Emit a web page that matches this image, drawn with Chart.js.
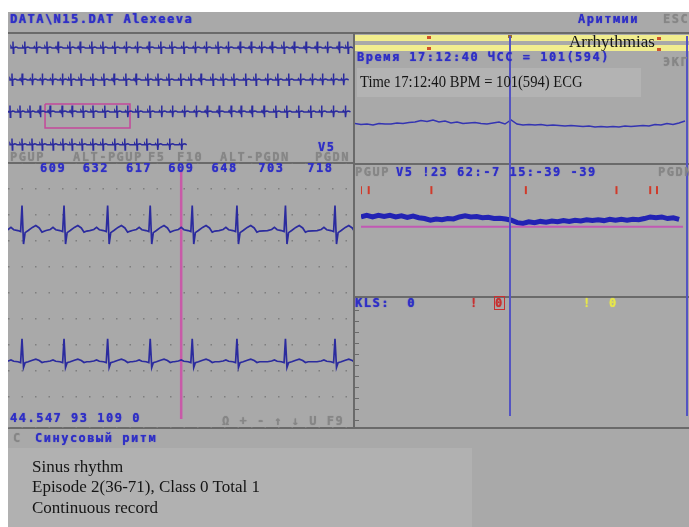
<!DOCTYPE html>
<html>
<head>
<meta charset="utf-8">
<script src="https://cdn.jsdelivr.net/npm/chart.js@4.4.0/dist/chart.umd.min.js"></script>
<style>
body{margin:0;width:689px;height:527px;overflow:hidden;position:relative;background:#fff;font-family:"DejaVu Sans Mono",monospace}
#screen{position:absolute;left:8px;top:12px;width:681px;height:515px;background:#a9a9a9}
.t{position:absolute;white-space:pre;font-weight:bold;font-size:12px;letter-spacing:1.5px;line-height:12px;color:#2f2fc6;text-shadow:0 0 1px currentColor}
.g{color:#868686}
.r{color:#c83030}
.y{color:#e6e64a}
.serif{position:absolute;white-space:pre;font-family:"Liberation Serif",serif;font-size:17px;line-height:20px;color:#151515}
.hl{position:absolute;height:2px;background:#6a6a6a}
.vl{position:absolute;width:2px;background:#6a6a6a}
.cur{position:absolute;width:2px;background:#5454c2}
.band{position:absolute;left:355px;width:334px;height:6px;background:#f1ed8e}
.mk{position:absolute;width:4px;height:3px;background:#d0522a}
.box{position:absolute}
</style>
</head>
<body>
<div id="screen"></div>

<!-- light boxes -->
<div class="box" style="left:357px;top:68px;width:284px;height:29px;background:#b3b3b3"></div>
<div class="box" style="left:8px;top:448px;width:464px;height:79px;background:#b1b1b1"></div>

<!-- panel frame -->
<div class="hl" style="left:8px;top:32px;width:681px"></div>
<div class="vl" style="left:353px;top:32px;height:397px"></div>
<div class="hl" style="left:8px;top:162px;width:345px"></div>
<div class="hl" style="left:355px;top:163px;width:334px"></div>
<div class="hl" style="left:355px;top:296px;width:334px"></div>
<div class="hl" style="left:8px;top:427px;width:681px"></div>
<div class="box" style="left:355px;top:300px;width:4px;height:125px;background:repeating-linear-gradient(#a9a9a9 0 10px,#6a6a6a 10px 11px)"></div>

<!-- yellow bands -->
<div class="band" style="top:35px"></div>
<div class="band" style="top:45px"></div>
<div class="mk" style="left:427px;top:36px"></div>
<div class="mk" style="left:427px;top:47px"></div>
<div class="mk" style="left:508px;top:35px;background:#9a6a30"></div>
<div class="mk" style="left:657px;top:37px"></div>
<div class="mk" style="left:657px;top:48px"></div>

<!-- charts -->
<div class="box" style="left:8px;top:36px"><canvas id="overview" width="345" height="116"></canvas></div>
<div class="box" style="left:8px;top:163px"><canvas id="main" width="345" height="265"></canvas></div>
<div class="box" style="left:355px;top:100px"><canvas id="trendA" width="334" height="50"></canvas></div>
<div class="box" style="left:355px;top:176px"><canvas id="trendB" width="334" height="64"></canvas></div>

<!-- cursors -->
<div class="cur" style="left:509px;top:36px;height:380px"></div>
<div class="cur" style="left:686px;top:36px;height:380px"></div>

<!-- texts -->
<div class="t" style="left:10px;top:13px">DATA\N15.DAT Alexeeva</div>
<div class="t" style="left:578px;top:13px">Аритмии</div>
<div class="t g" style="left:663px;top:13px">ESC</div>
<div class="serif" style="left:569px;top:32px">Arrhythmias</div>
<div class="t" style="left:357px;top:51px">Время 17:12:40 ЧСС = 101(594)</div>
<div class="t g" style="left:663px;top:56px">ЭКГ</div>
<div class="serif" style="left:360px;top:72px;transform:scaleX(0.86);transform-origin:left">Time 17:12:40 BPM = 101(594) ECG</div>

<div class="t" style="left:318px;top:141px">V5</div>
<div class="t g" style="left:10px;top:151px">PGUP</div>
<div class="t g" style="left:73px;top:151px">ALT-PGUP</div>
<div class="t g" style="left:148px;top:151px">F5</div>
<div class="t g" style="left:177px;top:151px">F10</div>
<div class="t g" style="left:220px;top:151px">ALT-PGDN</div>
<div class="t g" style="left:315px;top:151px">PGDN</div>

<div class="t g" style="left:355px;top:166px">PGUP</div>
<div class="t" style="left:396px;top:166px">V5 !23 62:-7 15:-39 -39</div>
<div class="t g" style="left:658px;top:166px">PGDN</div>

<div class="t" style="left:355px;top:297px">KLS:  0</div>
<div class="t r" style="left:470px;top:297px">!</div>
<div class="t r" style="left:495px;top:297px;outline:1px solid #c83030">0</div>
<div class="t y" style="left:583px;top:297px">!</div>
<div class="t y" style="left:609px;top:297px">0</div>

<div class="t" style="left:10px;top:412px">44.547 93 109 0</div>
<div class="t g" style="left:222px;top:415px">Ω + - ↑ ↓ U F9</div>
<div class="t g" style="left:13px;top:432px">C</div>
<div class="t" style="left:35px;top:432px">Синусовый ритм</div>

<div class="serif" style="left:32px;top:457px">Sinus rhythm</div>
<div class="serif" style="left:32px;top:477px">Episode 2(36-71), Class 0 Total 1</div>
<div class="serif" style="left:32px;top:498px">Continuous record</div>

<script>
// main window: RR intervals in ms (shown above the strip)
const mainFirstBeat = 203;
const mainRR = [609, 632, 617, 609, 648, 703, 718];
const cursorTime = 2510;

// beat shape, ms from R peak
const beatOffsets = [-260, -200, -160, -120, -60, -20, 0, 22, 45, 90, 150, 200, 250, 290, 330];
const lead1Shape = [0, 0.04, 0.12, 0.03, 0, -0.04, 0.96, -0.52, -0.08, 0, 0.12, 0.19, 0.1, -0.06, -0.02];
const lead2Shape = [0, 0.03, 0.07, 0.02, 0, -0.03, 0.88, -0.22, -0.04, 0, 0.06, 0.1, 0.05, -0.03, 0];
const lead1Base = -2.6;
const lead2Base = -7.65;

// overview rows (19 s each)
const miniOffsets = [-150, -110, -70, -15, 0, 18, 40, 140, 210, 280];
const miniShape = [0, 0.3, 0, 0, 1.6, -1.3, 0, 0.25, 0.2, 0];
const rowBase = [-3, -11, -19, -27.2];
const rowStart = [275, 220, 110, 220];
const row1RR = [650, 640, 580, 610, 650, 570, 640, 610, 650, 640, 610, 650, 640, 610, 650, 640, 610, 640, 570, 650, 610, 570, 580, 650, 570, 650, 610, 570, 640, 480];
const row2RR = [560, 560, 550, 560, 550, 460, 560, 650, 610, 560, 650, 560, 650, 560, 600, 650, 560, 560, 650, 560, 600, 650, 560, 650, 560, 600, 650, 650, 560, 600, 560];
const row3RR = [550, 550, 560, 550, 660, 550, 600, 550, 650, 660, 600, 560, 660, 650, 600, 660, 650, 600, 660, 660, 550, 600, 660, 650, 600, 660, 660, 600, 650, 660];
const row4RR = [550, 550, 550, 600, 550, 500, 550, 600, 550, 660, 550, 660, 550, 600, 660, 660];
const windowStart = 2040, windowEnd = 6720;

// right panel trends, one value every 6 units
const trendTop = [0.5, -0.5, 0, -1, 0.5, 0, 0, 1, 0.5, 1.5, 2, 3.5, 2.5, 4, 2, 3, 1, 2, 0.5, 1, 1.5, 0.5, 0, 1, 2, 0, 4, 0, -1, -0.5, -1, -0.5, -1.5, -1, -1.5, -2, -1.5, -2, -2.5, -2, -3, -2.5, -3, -2.5, -3, -2, -2.5, -2, -1.5, -2, -0.5, -1, 0.5, -0.5, 1, 3];
const trendBottom = [1, 3, 1, 3, 1.5, 3, 1, 2.5, 0.5, 2, 0, -1, -3, -1.5, -2.5, -1, -1.5, 1, 2.5, 1, 1.5, 0, 0.5, -1, -0.5, -1.5, -3, -6, -7, -5, -6, -4.5, -5.5, -4, -5, -3.5, -4.5, -3, -4, -2.5, -3.5, -2.5, -3.5, -2, -3, -2, -3, -2, -2.5, -1, 1, 0, 1, -1, 0, -2];
const trendStep = 6;
const eventMarks = [0, 8, 73, 171, 265, 300, 307];

const ink = '#2b2b9e';

function buildTrace(first, rr, offsets, shape, base) {
    const beats = [first];
    rr.forEach(v => beats.push(beats[beats.length - 1] + v));
    const pts = [];
    beats.forEach(t => {
        offsets.forEach((o, i) => pts.push({x: t + o, y: base + shape[i]}));
    });
    return pts;
}

function line(data, color, width) {
    return {data: data, borderColor: color, borderWidth: width, pointRadius: 0, tension: 0, fill: false};
}

const baseOptions = (xmax, ymin, ymax) => ({
    responsive: false,
    animation: false,
    devicePixelRatio: 1,
    layout: {padding: 0},
    plugins: {legend: {display: false}, tooltip: {enabled: false}},
    scales: {
        x: {type: 'linear', min: 0, max: xmax, display: false},
        y: {min: ymin, max: ymax, display: false}
    }
});

// overview
const rows = [row1RR, row2RR, row3RR, row4RR];
const ovSets = rows.map((rr, i) => line(buildTrace(rowStart[i], rr, miniOffsets, miniShape, rowBase[i]), ink, 1.5));
ovSets.push(line([
    {x: windowStart, y: -17}, {x: windowEnd, y: -17}, {x: windowEnd, y: -23},
    {x: windowStart, y: -23}, {x: windowStart, y: -17}
], '#c4489a', 1.5));
new Chart(document.getElementById('overview'), {
    type: 'line',
    data: {datasets: ovSets},
    options: baseOptions(19000, -29, 0)
});

// RR values above the strip
const rrLabels = {
    id: 'rrLabels',
    afterDraw(chart) {
        const ctx = chart.ctx, x = chart.scales.x;
        ctx.save();
        ctx.font = 'bold 12px "DejaVu Sans Mono"';
        ctx.letterSpacing = '1.5px';
        ctx.fillStyle = '#2f2fc6';
        ctx.shadowColor = '#2f2fc6';
        ctx.shadowBlur = 1;
        ctx.textBaseline = 'middle';
        let t = mainFirstBeat;
        mainRR.forEach(v => {
            ctx.fillText(String(v), x.getPixelForValue(t + v / 2) - 3, 6);
            t += v;
        });
        ctx.restore();
    }
};

const mainOpts = baseOptions(5000, -10.2, 0);
mainOpts.scales.y = {
    min: -10.2, max: 0, display: true,
    ticks: {display: false, stepSize: 1},
    grid: {color: '#7e7e7e', lineWidth: 1.5, drawTicks: false},
    border: {display: false, dash: [1.5, 12]}
};
new Chart(document.getElementById('main'), {
    type: 'line',
    data: {datasets: [
        line(buildTrace(mainFirstBeat, mainRR, beatOffsets, lead1Shape, lead1Base), ink, 1.7),
        line(buildTrace(mainFirstBeat, mainRR, beatOffsets, lead2Shape, lead2Base), ink, 1.7),
        line([{x: cursorTime, y: -0.25}, {x: cursorTime, y: -9.85}], '#c85aa8', 2.5)
    ]},
    options: mainOpts,
    plugins: [rrLabels]
});

// right trends
new Chart(document.getElementById('trendA'), {
    type: 'line',
    data: {datasets: [line(trendTop.map((v, i) => ({x: i * trendStep, y: v})), '#3434b2', 1.5)]},
    options: baseOptions(334, -26, 24)
});
new Chart(document.getElementById('trendB'), {
    type: 'line',
    data: {datasets: [
        line([{x: 0, y: -55}, {x: 334, y: -55}], '#c258b4', 2),
        line(trendBottom.map((v, i) => ({x: i * trendStep, y: v - 44})), '#2222b4', 5),
        {type: 'scatter', data: eventMarks.map(v => ({x: v, y: -10})), pointStyle: 'line', rotation: 90,
         radius: 4, borderColor: '#d03a2a', borderWidth: 2, showLine: false}
    ]},
    options: baseOptions(334, -64, 0)
});
</script>
</body>
</html>
